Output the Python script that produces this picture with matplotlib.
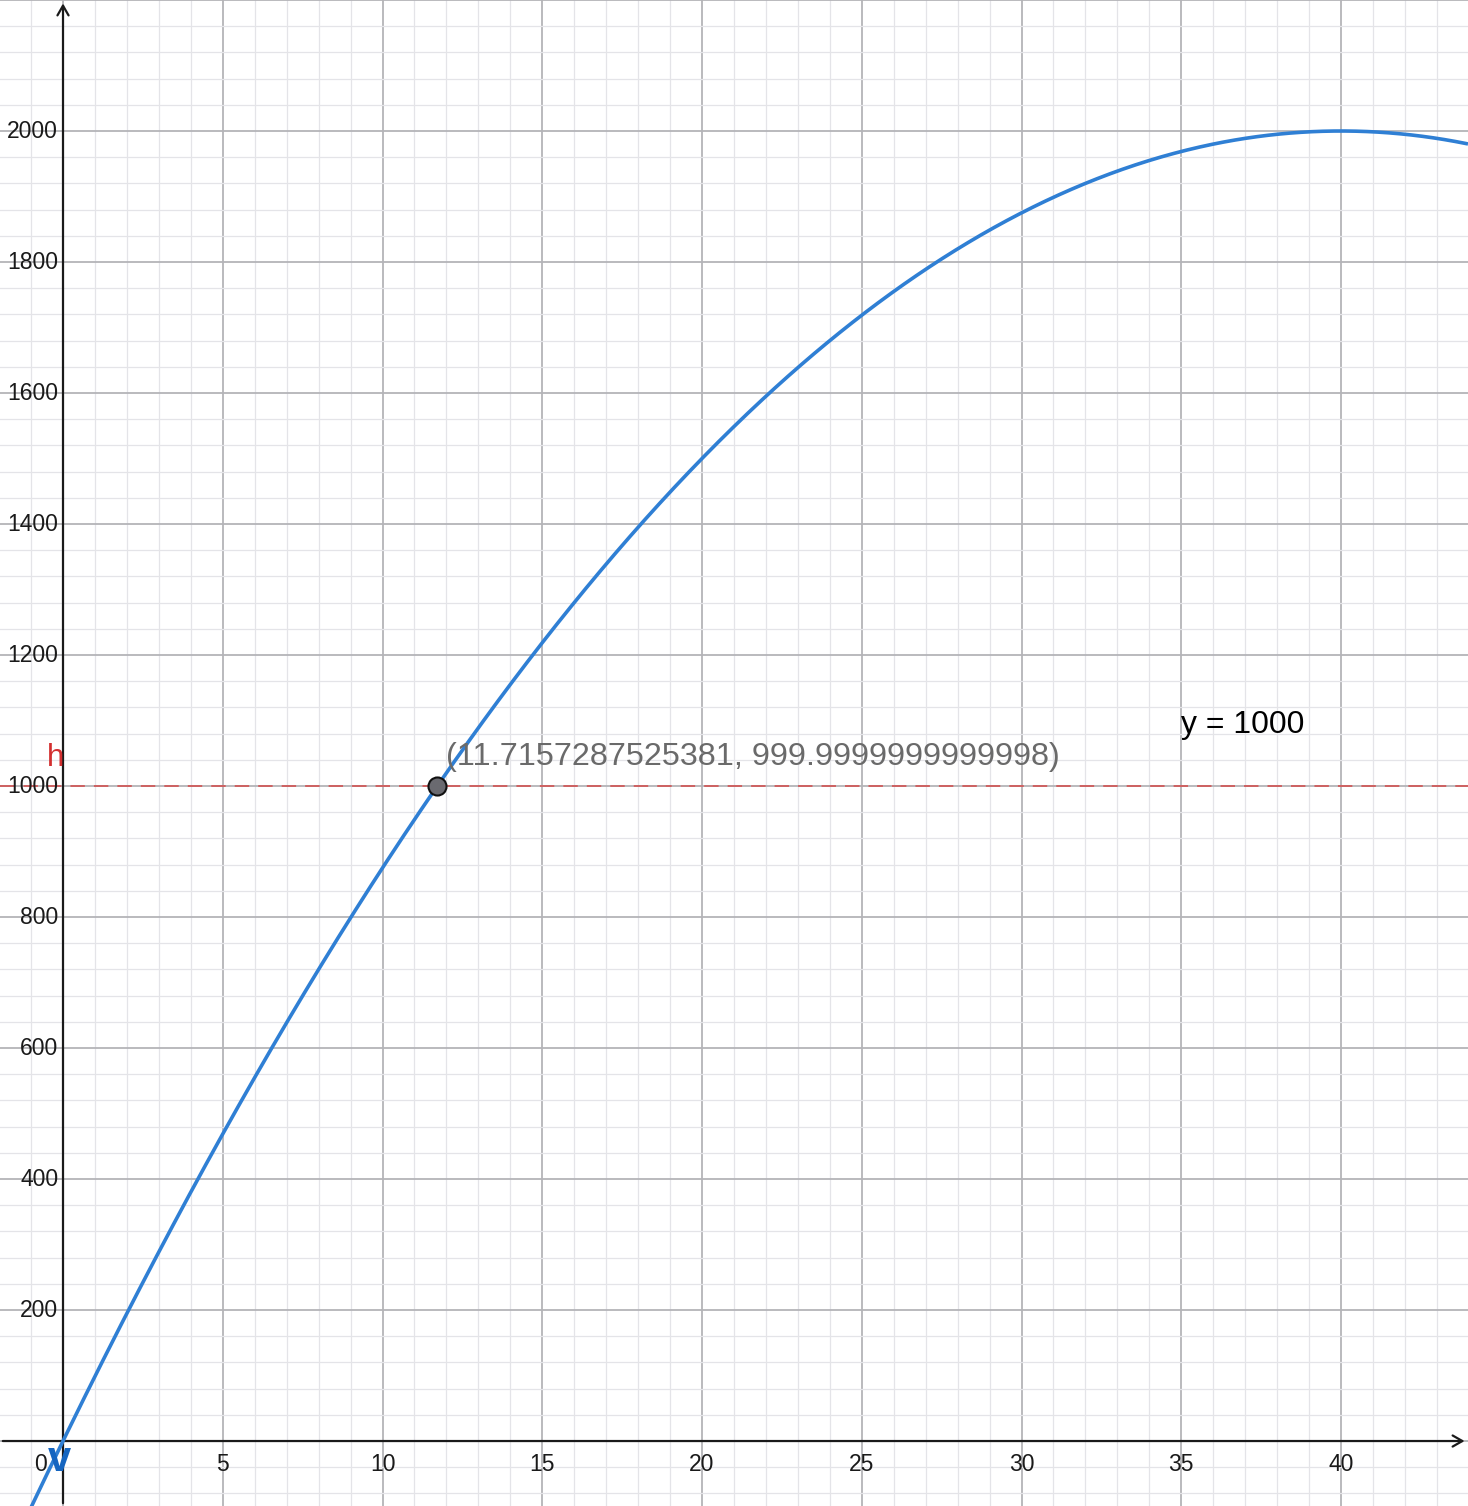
import numpy as np
import matplotlib
matplotlib.use("Agg")
import matplotlib.pyplot as plt

plt.rcParams['font.family'] = ['Liberation Sans', 'DejaVu Sans']

# Function v(x) = a*x + b*x^2 (coefficients: vertex (40, 2000))
coef_a = 100.0
coef_b = -1.25
h_level = 1000
point_x = 11.7157287525381
point_y = 999.9999999999998
point_label = "(11.7157287525381, 999.9999999999998)"
line_label = "y = 1000"
x_ticks = [5, 10, 15, 20, 25, 30, 35, 40]
y_ticks = [200, 400, 600, 800, 1000, 1200, 1400, 1600, 1800, 2000]

xmin, xmax = -1.972, 43.975
ymin, ymax = -99.2, 2200.0

fig = plt.figure(figsize=(14.68, 15.06), dpi=100)
ax = fig.add_axes([0, 0, 1, 1])
ax.set_xlim(xmin, xmax)
ax.set_ylim(ymin, ymax)
for s in ax.spines.values():
    s.set_visible(False)
ax.set_xticks([]); ax.set_yticks([])

# grid
for xv in np.arange(-1, 44, 1):
    major = (xv % 5 == 0)
    ax.axvline(xv, color="#b4b4b8" if major else "#e4e4e8", lw=1.3 if major else 0.9, zorder=0)
for yv in np.arange(-80, 2201, 40):
    major = (yv % 200 == 0)
    ax.axhline(yv, color="#b4b4b8" if major else "#e4e4e8", lw=1.3 if major else 0.9, zorder=0)

# axes with arrows
ax.annotate("", xy=(xmax - 0.02, 0), xytext=(xmin, 0),
            arrowprops=dict(arrowstyle="->,head_length=0.7,head_width=0.4", color="#1a1a1a", lw=1.6), zorder=3)
ax.annotate("", xy=(0, ymax - 1), xytext=(0, ymin),
            arrowprops=dict(arrowstyle="->,head_length=0.7,head_width=0.4", color="#1a1a1a", lw=1.6), zorder=3)

# tick labels
for xv in x_ticks:
    ax.text(xv, -36, str(xv), ha="center", va="center", fontsize=16.5, color="#1a1a1a", zorder=4)
ax.text(-0.7, -36, "0", ha="center", va="center", fontsize=16.5, color="#1a1a1a", zorder=4)
for yv in y_ticks:
    ax.text(-0.15, yv, str(yv), ha="right", va="center", fontsize=16.5, color="#1a1a1a", zorder=4)

# horizontal dashed line h
ax.axhline(h_level, color="#d05a5a", lw=1.3, ls=(0, (8, 5)), zorder=2)
ax.text(0.02, h_level + 43, "h", ha="right", va="center", fontsize=22.5, color="#d32f2f", zorder=4)
ax.text(35, h_level + 93, line_label, ha="left", va="center", fontsize=23, color="#000000", zorder=4)

# curve
xs = np.linspace(xmin, xmax, 800)
ys = coef_a * xs + coef_b * xs ** 2
ax.plot(xs, ys, color="#2f7fd4", lw=2.6, zorder=3, solid_capstyle="butt")
ax.text(-0.1, -29, "v", ha="center", va="center", fontsize=30, fontweight="bold",
        color="#1565c0", zorder=4)

# intersection point
ax.plot([point_x], [point_y], "o", ms=13, mfc="#6a6a70", mec="#111111", mew=1.5, zorder=5)
ax.text(point_x + 0.28, point_y + 45, point_label, ha="left", va="center", fontsize=23.3,
        color="#6a6a6a", zorder=4)

fig.savefig("out.png", dpi=100)
